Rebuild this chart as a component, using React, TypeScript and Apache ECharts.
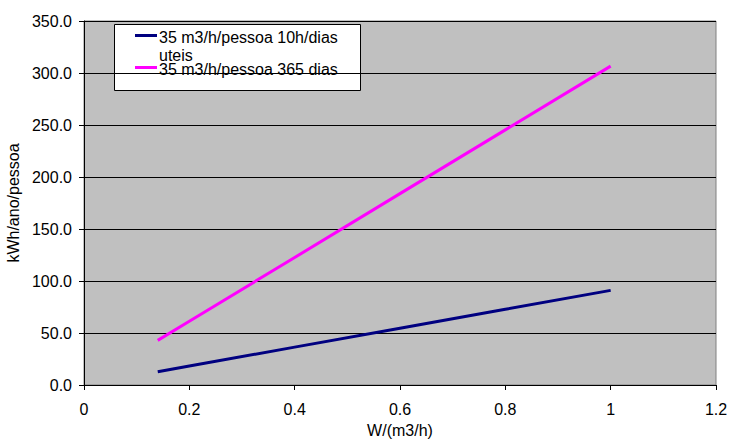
import React, { useEffect, useRef } from "react";
import * as echarts from "echarts";

const xValues = [0.14, 0.2, 0.4, 0.6, 0.8, 1.0];
const seriesUteis = [12.7, 18.2, 36.4, 54.6, 72.8, 91.0];
const series365 = [42.9, 61.3, 122.6, 184.0, 245.3, 306.6];
const seriesNames = ["35 m3/h/pessoa 10h/dias uteis", "35 m3/h/pessoa 365 dias"];
const xAxisTitle = "W/(m3/h)";
const yAxisTitle = "kWh/ano/pessoa";

const FONT = "Liberation Sans, Arial, sans-serif";
const FS = 16;

export default function App() {
  const ref = useRef<HTMLDivElement>(null);
  useEffect(() => {
    if (!ref.current) return;
    const chart = echarts.init(ref.current, null, { renderer: "svg" });
    chart.setOption({
      animation: false,
      textStyle: { fontFamily: FONT },
      grid: {
        left: 84,
        right: 13,
        top: 21,
        bottom: 56,
        containLabel: false,
        outerBoundsMode: "none",
        show: true,
        backgroundColor: "#C0C0C0",
        borderColor: "#808080",
        borderWidth: 1,
      },
      xAxis: {
        type: "value",
        min: 0,
        max: 1.2,
        interval: 0.2,
        name: xAxisTitle,
        nameLocation: "middle",
        nameGap: 37,
        nameTextStyle: { fontSize: FS, color: "#000", fontFamily: FONT },
        axisLine: { show: true, onZero: false, lineStyle: { color: "#000", width: 1 } },
        axisTick: { show: true, length: 5, lineStyle: { color: "#000" } },
        axisLabel: {
          fontSize: FS,
          color: "#000",
          margin: 16,
          fontFamily: FONT,
          formatter: (v: number) => String(Math.round(v * 10) / 10),
        },
        splitLine: { show: false },
      },
      yAxis: {
        type: "value",
        min: 0,
        max: 350,
        interval: 50,
        name: yAxisTitle,
        nameLocation: "middle",
        nameGap: 60,
        nameTextStyle: { fontSize: FS, color: "#000", fontFamily: FONT },
        axisLine: { show: true, lineStyle: { color: "#000", width: 1 } },
        axisTick: { show: true, length: 5, lineStyle: { color: "#000" } },
        axisLabel: {
          fontSize: FS,
          color: "#000",
          margin: 12,
          fontFamily: FONT,
          formatter: (v: number) => v.toFixed(1),
        },
        splitLine: { show: true, lineStyle: { color: "#000", width: 1 } },
      },
      series: [
        {
          name: seriesNames[0],
          type: "line",
          data: xValues.map((x, i) => [x, seriesUteis[i]]),
          showSymbol: false,
          symbol: "none",
          lineStyle: { color: "#000080", width: 3 },
          itemStyle: { color: "#000080" },
        },
        {
          name: seriesNames[1],
          type: "line",
          data: xValues.map((x, i) => [x, series365[i]]),
          showSymbol: false,
          symbol: "none",
          lineStyle: { color: "#FF00FF", width: 3 },
          itemStyle: { color: "#FF00FF" },
        },
      ],
      graphic: [
        {
          type: "group",
          left: 114,
          top: 24,
          children: [
            {
              type: "rect",
              shape: { x: 0.5, y: 0.5, width: 246, height: 66 },
              style: { fill: "#fff", stroke: "#000", lineWidth: 1 },
            },
            {
              type: "line",
              shape: { x1: 21, y1: 11.5, x2: 43, y2: 11.5 },
              style: { stroke: "#000080", lineWidth: 3 },
            },
            {
              type: "text",
              x: 45,
              y: 13,
              style: {
                text: "35 m3/h/pessoa 10h/dias",
                fontSize: FS,
                fontFamily: FONT,
                fill: "#000",
                verticalAlign: "middle",
              },
            },
            {
              type: "text",
              x: 45,
              y: 31,
              style: {
                text: "uteis",
                fontSize: FS,
                fontFamily: FONT,
                fill: "#000",
                verticalAlign: "middle",
              },
            },
            {
              type: "line",
              shape: { x1: 21, y1: 43.5, x2: 43, y2: 43.5 },
              style: { stroke: "#FF00FF", lineWidth: 3 },
            },
            {
              type: "text",
              x: 45,
              y: 45,
              style: {
                text: seriesNames[1],
                fontSize: FS,
                fontFamily: FONT,
                fill: "#000",
                verticalAlign: "middle",
              },
            },
          ],
        },
      ],
    });
    return () => chart.dispose();
  }, []);
  return (
    <div
      ref={ref}
      style={{ position: "absolute", left: 0, top: 0, width: 729, height: 441, background: "#fff" }}
    />
  );
}
